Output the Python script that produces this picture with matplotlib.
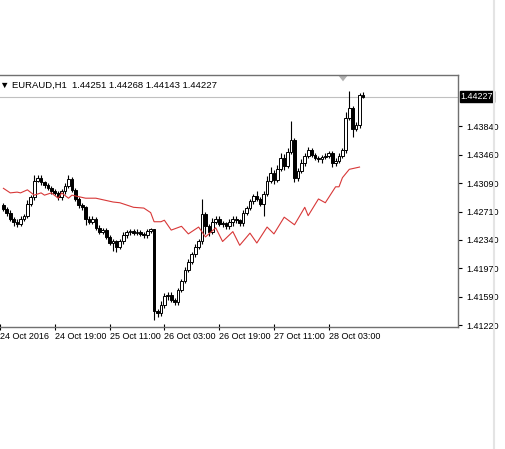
import matplotlib
matplotlib.use('Agg')
import matplotlib.pyplot as plt
from matplotlib.patches import Polygon

plt.rcParams['font.family'] = ['Liberation Sans', 'DejaVu Sans']

# EURAUD H1 closes, bar 1 .. 106 (open = previous close)
first_open = 1.4280
closes = [
    1.4275, 1.4270, 1.4262, 1.4258, 1.4255, 1.4262, 1.4266, 1.4282, 1.4290, 1.4312,
    1.4316, 1.4310, 1.4306, 1.4303, 1.4298, 1.4296, 1.4290, 1.4298, 1.4305, 1.4314,
    1.4300, 1.4288, 1.4280, 1.4277, 1.4262, 1.4258, 1.4262, 1.4250, 1.4245, 1.4247,
    1.4238, 1.4230, 1.4232, 1.4225, 1.4232, 1.4240, 1.4244, 1.4246, 1.4243, 1.4245,
    1.4242, 1.4240, 1.4246, 1.4248, 1.4140, 1.4138, 1.4148, 1.4160, 1.4162, 1.4155,
    1.4152, 1.4168, 1.4180, 1.4195, 1.4205, 1.4215, 1.4225, 1.4232, 1.4268, 1.4252,
    1.4245, 1.4258, 1.4262, 1.4255, 1.4256, 1.4252, 1.4258, 1.4262, 1.4260, 1.4256,
    1.4270, 1.4276, 1.4285, 1.4292, 1.4288, 1.4282, 1.4295, 1.4312, 1.4322, 1.4313,
    1.4328, 1.4342, 1.4332, 1.4350, 1.4365, 1.4315, 1.4325, 1.4335, 1.4345, 1.4352,
    1.4346, 1.4342, 1.4340, 1.4343, 1.4345, 1.4348, 1.4335, 1.4338, 1.4345, 1.4352,
    1.4395, 1.4408, 1.4380, 1.4385, 1.4425, 1.44227,
]
# wick sizes in pips above / below the body
wick_up = [
    3, 2, 3, 2, 3, 3, 2, 4, 3, 8,
    3, 3, 2, 3, 2, 3, 2, 3, 4, 6,
    3, 3, 2, 3, 2, 3, 3, 2, 4, 3,
    3, 2, 3, 2, 3, 4, 3, 2, 3, 4,
    2, 3, 3, 2, 0, 3, 6, 4, 3, 4,
    3, 3, 3, 3, 4, 3, 4, 3, 20, 3,
    3, 5, 3, 3, 3, 2, 3, 3, 3, 2,
    4, 3, 3, 3, 6, 3, 3, 6, 8, 4,
    5, 6, 5, 5, 25, 3, 4, 5, 3, 4,
    3, 3, 3, 3, 3, 3, 3, 4, 4, 3,
    8, 22, 3, 4, 2, 4,
]
wick_dn = [
    3, 4, 3, 6, 4, 3, 3, 3, 3, 3,
    2, 3, 3, 3, 3, 3, 3, 3, 3, 3,
    3, 3, 4, 3, 8, 3, 3, 3, 3, 3,
    3, 3, 10, 7, 3, 3, 3, 3, 3, 3,
    3, 3, 3, 3, 12, 6, 4, 3, 5, 3,
    4, 3, 3, 3, 3, 3, 3, 3, 3, 10,
    6, 3, 3, 3, 4, 3, 3, 5, 3, 3,
    3, 3, 3, 3, 3, 3, 16, 3, 3, 5,
    3, 3, 6, 3, 3, 5, 3, 3, 3, 3,
    3, 3, 3, 5, 3, 3, 5, 3, 3, 3,
    3, 3, 10, 3, 3, 2,
]

# red overlay line (bar index, price)
red_idx = [1, 3, 5, 6, 8, 10, 12, 13, 15, 17, 18, 20, 21, 23, 25, 28, 30, 33, 35, 39,
           42, 44, 45, 47, 48, 50, 53, 55, 58, 60, 63, 65, 68, 70, 73, 75, 78, 80, 83, 86,
           89, 90, 93, 95, 98, 99, 100, 102, 105]
red_val = [1.4302, 1.4296, 1.4297, 1.4296, 1.4300, 1.4293, 1.4296, 1.4293, 1.4296, 1.4289,
           1.4296, 1.4289, 1.4293, 1.4291, 1.4289, 1.4289, 1.4287, 1.4284, 1.4283, 1.4277,
           1.4276, 1.4270, 1.4258, 1.4258, 1.4260, 1.4247, 1.4252, 1.4242, 1.4251, 1.4238,
           1.4250, 1.4232, 1.4245, 1.4227, 1.4243, 1.4230, 1.4251, 1.4242, 1.4264, 1.4254,
           1.4277, 1.4266, 1.4288, 1.4283, 1.4304, 1.4304, 1.4316, 1.4327, 1.4330]

price_ticks = [1.43840, 1.43460, 1.43090, 1.42710, 1.42340, 1.41970, 1.41590, 1.41220]
time_ticks = [0, 16, 32, 48, 64, 80, 96]
time_labels = ['24 Oct 2016', '24 Oct 19:00', '25 Oct 11:00', '26 Oct 03:00',
               '26 Oct 19:00', '27 Oct 11:00', '28 Oct 03:00']
header = '\u25bc EURAUD,H1  1.44251 1.44268 1.44143 1.44227'

fig = plt.figure(figsize=(5.06, 4.49), dpi=100)
ax = fig.add_axes([0, 0.2717, 458 / 506, 252 / 449])

opens = [first_open] + closes[:-1]
for i, (o, c, u, d) in enumerate(zip(opens, closes, wick_up, wick_dn)):
    x = i + 1
    hi = max(o, c) + u * 0.0001
    lo = min(o, c) - d * 0.0001
    ax.vlines(x, lo, hi, color='black', linewidth=0.8, zorder=2)
    bull = c >= o
    body = max(abs(c - o), 0.00004)
    ax.bar(x, body, bottom=min(o, c), width=0.8,
           color='white' if bull else 'black', edgecolor='black', linewidth=0.7, zorder=3)

ax.plot(red_idx, red_val, color='#d83838', linewidth=0.8, zorder=4)

ax.set_ylim(1.41194, 1.44512)
ax.set_xlim(0.9, 133.75)

# last price line
ax.axhline(closes[-1], color='#c0c0c0', linewidth=0.8, zorder=1)

ax.yaxis.tick_right()
ax.set_yticks(price_ticks)
ax.set_yticklabels(['%.5f' % p for p in price_ticks], fontsize=6.5)
ax.tick_params(axis='y', direction='out', length=3, pad=3)
ax.text(1.006, closes[-1], '%.5f' % closes[-1], transform=ax.get_yaxis_transform(),
        fontsize=6.5, color='white', va='center', ha='left', zorder=10,
        bbox=dict(boxstyle='square,pad=0.12', facecolor='black', edgecolor='black'))

ax.set_xticks(time_ticks)
ax.set_xticklabels(time_labels, fontsize=6.5, ha='left')
ax.tick_params(axis='x', direction='inout', length=5, pad=1)

for s in ['top', 'right', 'bottom']:
    ax.spines[s].set_color('#707070')
    ax.spines[s].set_linewidth(1.0)
ax.spines['left'].set_visible(False)

ax.text(0.0, 0.975, header, transform=ax.transAxes, fontsize=6.8, va='top', ha='left',
        family=['Liberation Sans', 'DejaVu Sans'])

# small grey marker at the top of the window
tri = Polygon([[338 / 458, 1.0], [348 / 458, 1.0], [343 / 458, 0.975]], closed=True,
              transform=ax.transAxes, facecolor='#b0b0b0', edgecolor='none', clip_on=False)
ax.add_patch(tri)

# right scroll border
fig.add_artist(plt.Line2D([494 / 506, 494 / 506], [0, 1], color='#e4e4e4', linewidth=1.5))

fig.savefig('out.png', dpi=100)
